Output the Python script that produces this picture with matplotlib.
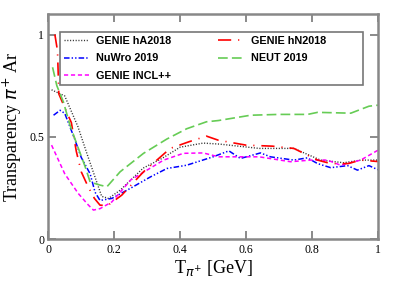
import matplotlib
matplotlib.use("Agg")
import matplotlib.pyplot as plt
from matplotlib.patches import Rectangle

# Pion transparency on Ar
t_ha = [0.01, 0.05, 0.09, 0.117, 0.162, 0.183, 0.218, 0.288, 0.345, 0.40, 0.47, 0.52, 0.64, 0.745, 0.826, 0.897, 0.948, 1.0]
v_ha = [0.73, 0.70, 0.55, 0.42, 0.21, 0.20, 0.24, 0.348, 0.395, 0.45, 0.47, 0.465, 0.444, 0.444, 0.387, 0.374, 0.387, 0.387]

t_hn = [0.02, 0.028, 0.032, 0.056, 0.07, 0.085, 0.10, 0.12, 0.14, 0.157, 0.18, 0.223, 0.289, 0.37, 0.426, 0.48, 0.516, 0.60, 0.68, 0.745, 0.817, 0.857, 0.91, 0.948, 1.0]
v_hn = [1.0, 0.92, 0.71, 0.62, 0.57, 0.43, 0.33, 0.26, 0.20, 0.167, 0.165, 0.216, 0.33, 0.444, 0.476, 0.504, 0.484, 0.46, 0.455, 0.444, 0.387, 0.37, 0.37, 0.387, 0.38]

t_nuwro = [0.016, 0.036, 0.05, 0.08, 0.10, 0.127, 0.142, 0.157, 0.193, 0.25, 0.31, 0.36, 0.42, 0.50, 0.548, 0.583, 0.644, 0.674, 0.745, 0.786, 0.817, 0.857, 0.908, 0.938, 0.973, 1.0]
v_nuwro = [0.606, 0.63, 0.615, 0.49, 0.40, 0.32, 0.23, 0.19, 0.20, 0.25, 0.305, 0.346, 0.362, 0.403, 0.432, 0.395, 0.422, 0.403, 0.387, 0.398, 0.37, 0.35, 0.36, 0.338, 0.36, 0.34]

t_incl = [0.01, 0.05, 0.091, 0.122, 0.137, 0.157, 0.193, 0.25, 0.35, 0.41, 0.47, 0.517, 0.64, 0.735, 0.796, 0.847, 0.887, 0.948, 1.0]
v_incl = [0.46, 0.32, 0.224, 0.167, 0.143, 0.15, 0.183, 0.29, 0.387, 0.42, 0.422, 0.403, 0.403, 0.379, 0.387, 0.387, 0.362, 0.387, 0.435]

t_neut = [0.013, 0.026, 0.046, 0.066, 0.09, 0.112, 0.127, 0.157, 0.178, 0.218, 0.289, 0.36, 0.42, 0.48, 0.516, 0.614, 0.70, 0.787, 0.817, 0.918, 0.973, 1.0]
v_neut = [0.84, 0.75, 0.67, 0.557, 0.45, 0.354, 0.28, 0.265, 0.257, 0.33, 0.42, 0.49, 0.54, 0.574, 0.58, 0.606, 0.61, 0.61, 0.62, 0.616, 0.65, 0.655]

plt.rcParams['lines.scale_dashes'] = False
serif = ['Liberation Serif', 'DejaVu Serif']

fig = plt.figure(figsize=(3.99, 2.86), dpi=100)
ax = fig.add_axes([0.121, 0.163, 0.826, 0.788])

l1, = ax.plot(t_ha, v_ha, color='#333333', lw=1.0, linestyle=(0, (0.8, 1.2)), label='GENIE hA2018')
l2, = ax.plot(t_nuwro, v_nuwro, color='#0000ff', lw=1.1, linestyle=(0, (4, 1.5, 1, 1.5, 1, 1.5)), label='NuWro 2019')
l3, = ax.plot(t_incl, v_incl, color='#ff00ff', lw=1.1, linestyle=(0, (3, 2)), label='GENIE INCL++')
l4, = ax.plot(t_hn, v_hn, color='#ff0000', lw=1.2, linestyle=(0, (9.5, 5, 0.8, 5)), label='GENIE hN2018')
l5, = ax.plot(t_neut, v_neut, color='#66cc55', lw=1.2, linestyle=(0, (7, 3)), label='NEUT 2019')

ax.set_xlim(0, 1)
ax.set_ylim(0, 1.1)
ax.set_xticks([0, 0.2, 0.4, 0.6, 0.8, 1])
ax.set_xticklabels(['0', '0.2', '0.4', '0.6', '0.8', '1'])
ax.set_yticks([0, 0.5, 1])
ax.set_yticklabels(['0', '0.5', '1'])
ax.tick_params(direction='in', length=6, width=1.2, color='#777777', top=True, right=True, labelsize=8.5, pad=3)
for lab in ax.get_xticklabels() + ax.get_yticklabels():
    lab.set_family(serif)
for s in ax.spines.values():
    s.set_color('#888888')
    s.set_linewidth(1.8)

ax.set_xlabel(r'T$_{\pi^{+}}$ [GeV]', family=serif, fontsize=13, labelpad=2)
ax.set_ylabel(r'Transparency $\pi^{+}$ Ar', family=serif, fontsize=13, labelpad=4)

# legend: box drawn by hand, two columns placed separately
ax.add_patch(Rectangle((0.0355, 0.685), 0.919, 0.235, transform=ax.transAxes, fill=False,
                       edgecolor='#777777', linewidth=1.2, zorder=5))
legkw = dict(loc='upper left', prop={'family': ['Liberation Sans', 'DejaVu Sans'], 'weight': 'bold', 'size': 7.8},
             frameon=False, handlelength=2.35, borderaxespad=0, labelspacing=0.7, borderpad=0.35,
             handletextpad=0.65)
leg1 = ax.legend(handles=[l1, l2, l3], bbox_to_anchor=(0.0355, 0.92), **legkw)
ax.add_artist(leg1)
ax.legend(handles=[l4, l5], bbox_to_anchor=(0.5045, 0.92), **legkw)

fig.savefig('out.png', dpi=100)
